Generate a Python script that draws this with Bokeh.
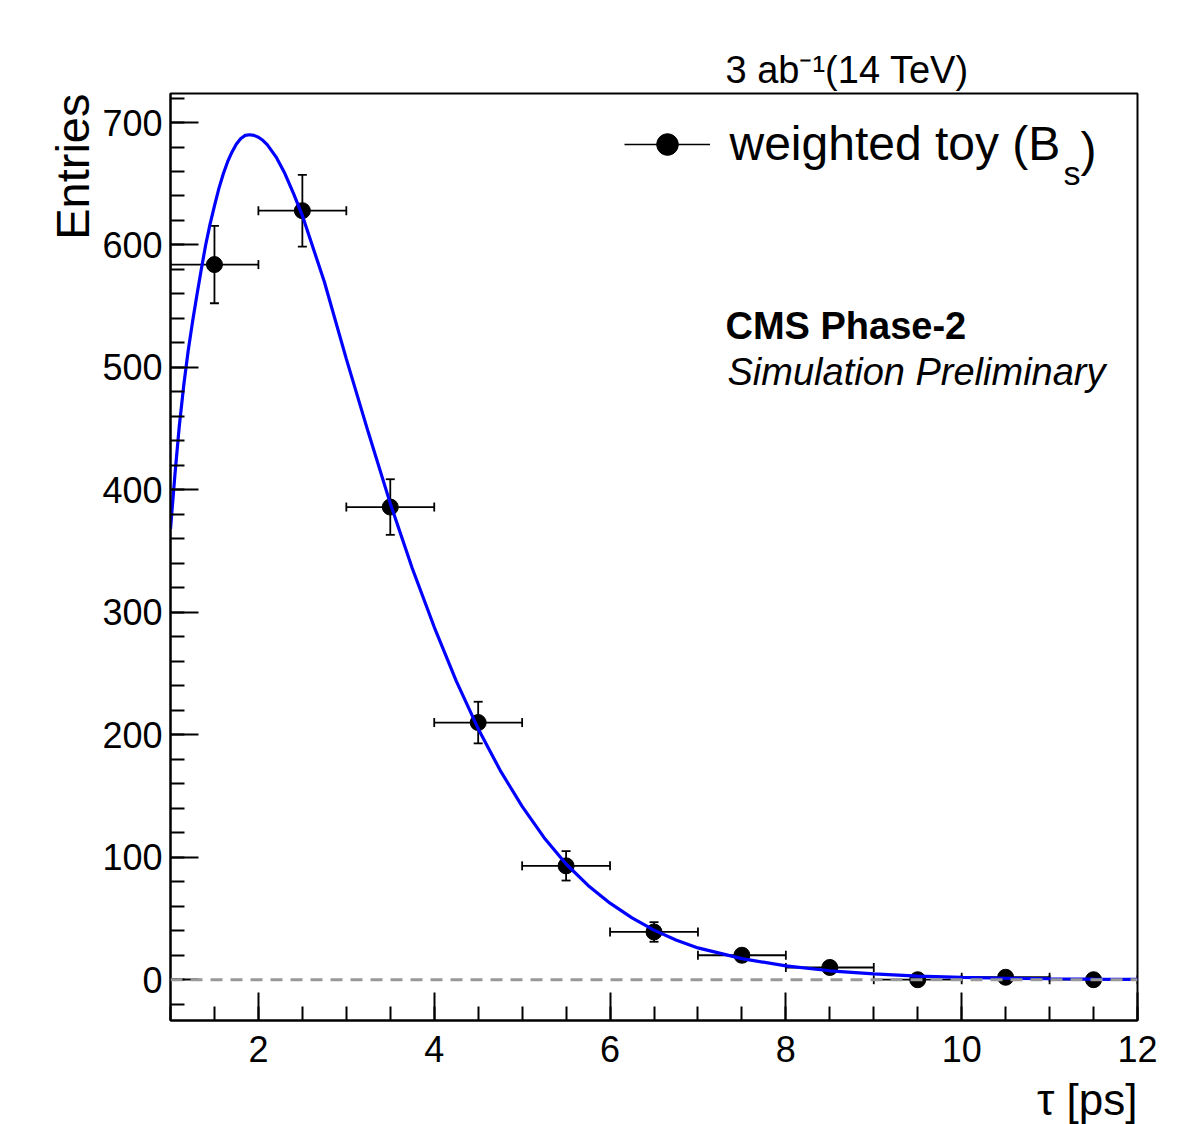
import numpy as np
from bokeh.plotting import figure
from bokeh.models import (ColumnDataSource, Range1d, FixedTicker, Whisker, TeeHead,
                          Span, Label, Legend, LegendItem, Title)
from bokeh.embed import file_html
from bokeh.resources import INLINE

# ---------------- data ----------------
bin_centers = [1.5, 2.5, 3.5, 4.5, 5.5, 6.5, 7.5, 8.5, 9.5, 10.5, 11.5]
bin_half_width = [0.5] * 11
entries = [584, 628, 386, 210, 93, 39, 20, 10, 0, 2, 0]
entries_err = [31.6, 29.3, 22.7, 17, 12, 8, 5, 3, 0, 1, 0]

# fit curve
fit_tau = [1.0, 1.05, 1.1, 1.15, 1.2, 1.25, 1.3, 1.35, 1.4, 1.45, 1.5, 1.55, 1.6,
           1.65, 1.7, 1.75, 1.8, 1.85, 1.9, 1.95, 2.0, 2.05, 2.1, 2.2, 2.3, 2.4,
           2.5, 2.75, 3.0, 3.25, 3.5, 3.75, 4.0, 4.25, 4.5, 4.75, 5.0, 5.25, 5.5,
           5.75, 6.0, 6.25, 6.5, 6.75, 7.0, 7.5, 8.0, 8.5, 9.0, 9.5, 10.0, 10.5,
           11.0, 11.5, 12.0]
fit_entries = [368, 412, 452, 485, 513, 537, 559, 580, 600, 617, 632, 646, 658,
               668, 676, 682.5, 687, 689.5, 690, 689.5, 688, 685.5, 682, 672, 658.5, 642,
               624, 570, 507, 447, 389, 336, 288, 244, 205, 171, 141.5, 116, 94.5,
               77, 62.5, 50.5, 40.5, 32.5, 26, 17.2, 11.3, 7.3, 4.7, 3.0, 1.9, 1.2,
               0.8, 0.5, 0.3]

x_ticks = [2, 4, 6, 8, 10, 12]
y_ticks = [0, 100, 200, 300, 400, 500, 600, 700]

FONT = "Liberation Sans"

# frame-relative screen helpers (reference pixel -> frame pixel)
FL, FB = 170, 1020
def sx(px):
    return px - FL
def sy(py):
    return FB - py

p = figure(frame_width=967, frame_height=927,
           x_range=Range1d(1, 12), y_range=Range1d(-33.3, 723.7),
           output_backend="svg", toolbar_location=None,
           min_border_left=170, min_border_right=38,
           min_border_top=93, min_border_bottom=104,
           background_fill_color="white", border_fill_color="white")
p.xgrid.visible = False
p.ygrid.visible = False
p.outline_line_color = "black"
p.outline_line_width = 2

for ax in (p.xaxis[0], p.yaxis[0]):
    ax.major_tick_out = 0
    ax.minor_tick_out = 0
    ax.major_tick_in = 28
    ax.minor_tick_in = 14
    ax.axis_line_width = 2
    ax.major_tick_line_width = 2
    ax.minor_tick_line_width = 2
    ax.axis_line_color = "black"
    ax.major_tick_line_color = "black"
    ax.minor_tick_line_color = "black"
    ax.major_label_text_font = FONT
    ax.major_label_text_color = "black"

p.xaxis.ticker = FixedTicker(ticks=x_ticks, minor_ticks=list(np.arange(1, 12.01, 0.5)))
p.xaxis.major_label_text_font_size = "36px"
p.xaxis.major_label_standoff = 15
p.yaxis.ticker = FixedTicker(ticks=y_ticks, minor_ticks=list(range(-20, 721, 20)))
p.yaxis.major_label_text_font_size = "36px"
p.yaxis.major_label_standoff = 8

src = ColumnDataSource(dict(
    x=bin_centers, y=entries,
    xlo=[c - h for c, h in zip(bin_centers, bin_half_width)],
    xhi=[c + h for c, h in zip(bin_centers, bin_half_width)],
    ylo=[v - e for v, e in zip(entries, entries_err)],
    yhi=[v + e for v, e in zip(entries, entries_err)],
))

def tee():
    return TeeHead(size=9, line_color="black", line_width=1.8)

xerr = Whisker(source=src, base="y", lower="xlo", upper="xhi", dimension="width",
               line_color="black", line_width=1.8, lower_head=tee(), upper_head=tee(),
               level="underlay")
yerr = Whisker(source=src, base="x", lower="ylo", upper="yhi", dimension="height",
               line_color="black", line_width=1.8, lower_head=tee(), upper_head=tee(),
               level="underlay")
p.add_layout(xerr)
p.add_layout(yerr)

leg_line = p.line("x", "y", source=src, line_color="black", line_width=1.5, visible=False)
leg_bar = p.scatter("x", "y", source=src, marker="dash", angle=np.pi / 2, size=36,
                    line_color="black", line_width=1.5, visible=False)
dots = p.scatter("x", "y", source=src, marker="circle", size=16,
                 fill_color="black", line_color="black")
curve = p.line(fit_tau, fit_entries, line_color="#0000ff", line_width=3.2)

p.add_layout(Span(location=0, dimension="width", line_color="#999999",
                  line_width=3, line_dash="12 8"))

legend = Legend(items=[LegendItem(label="weighted toy (B", renderers=[leg_line, leg_bar, dots])],
                location=(sx(623.5), sy(148) - 27 + 4), glyph_width=86, glyph_height=54,
                label_standoff=20, label_text_font=FONT, label_text_font_size="48px",
                label_text_color="black", padding=0, margin=0, spacing=0,
                border_line_alpha=0, background_fill_alpha=0)
p.add_layout(legend)

LIFT = 12
def lab(text, x, y, size, style="normal", align="left"):
    p.add_layout(Label(text=text, x=x, y=y + LIFT, x_units="screen", y_units="screen",
                       text_font=FONT, text_font_size=size, text_font_style=style,
                       text_align=align, text_baseline="alphabetic",
                       text_color="black"))

lab("s", sx(1063), sy(184), "34px")
lab(")", sx(1080), sy(161), "48px")
lab("CMS Phase-2", sx(725), sy(337), "38px", style="bold")
lab("Simulation Preliminary", sx(727), sy(383), "38px", style="italic")

# texts outside the frame as titles in the side panels
p.add_layout(Title(text="3 ab\u207b\u00b9(14 TeV)", align="left", offset=725 - FL,
                   text_font=FONT, text_font_size="38px", text_font_style="normal",
                   text_color="black", vertical_align="bottom", standoff=6), "above")
p.add_layout(Title(text="Entries", align="right", text_font=FONT, text_font_size="47px",
                   text_font_style="normal", text_color="black",
                   vertical_align="bottom", standoff=2), "left")
p.add_layout(Title(text="\u03c4 [ps]", align="right", text_font=FONT, text_font_size="44px",
                   text_font_style="normal", text_color="black",
                   vertical_align="top", standoff=20), "below")

open("out.html", "w").write(file_html(p, INLINE))
